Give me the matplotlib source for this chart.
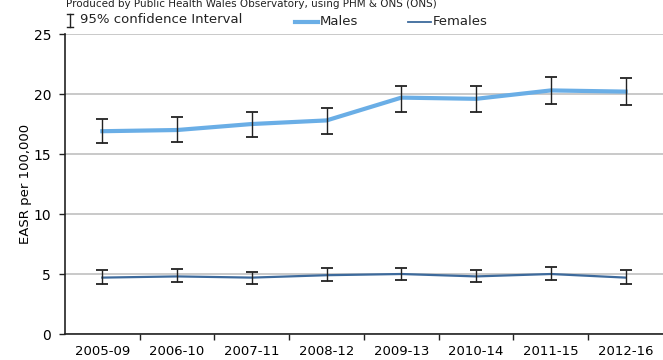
import numpy as np
import matplotlib.pyplot as plt
import matplotlib.ticker as ticker

periods = ['2005-09', '2006-10', '2007-11', '2008-12', '2009-13', '2010-14', '2011-15', '2012-16']

males = [16.9, 17.0, 17.5, 17.8, 19.7, 19.6, 20.3, 20.2]
males_low = [15.9, 16.0, 16.4, 16.7, 18.5, 18.5, 19.2, 19.1]
males_high = [17.9, 18.1, 18.5, 18.8, 20.7, 20.7, 21.4, 21.3]

females = [4.7, 4.8, 4.7, 4.9, 5.0, 4.8, 5.0, 4.7]
females_low = [4.2, 4.3, 4.2, 4.4, 4.5, 4.3, 4.5, 4.2]
females_high = [5.3, 5.4, 5.2, 5.5, 5.5, 5.3, 5.6, 5.3]

male_col = '#6aaee6'
female_col = '#3d6a9c'


def err(vals, low, high):
    v = np.array(vals)
    return [v - np.array(low), np.array(high) - v]


def main():
    fig = plt.figure(figsize=(6.63, 3.6), dpi=100)
    ax = fig.add_axes([0.098, 0.0722, 0.902, 0.8333])
    x = np.arange(len(periods))

    ax.plot(x, males, color=male_col, lw=3, zorder=3)
    ax.plot(x, females, color=female_col, lw=1.6, zorder=3)
    ax.errorbar(x, males, yerr=err(males, males_low, males_high), fmt='none',
                ecolor='#222222', elinewidth=1, capsize=4, capthick=1.3, zorder=4)
    ax.errorbar(x, females, yerr=err(females, females_low, females_high), fmt='none',
                ecolor='#222222', elinewidth=1, capsize=4, capthick=1.3, zorder=4)

    ax.set_xlim(-0.5, len(periods) - 0.5)
    ax.set_ylim(0, 25)
    ax.yaxis.set_major_locator(ticker.MultipleLocator(5))
    ax.grid(axis='y', color='#c0c0c0', lw=1.2)
    ax.set_axisbelow(True)

    ax.set_xticks(x)
    ax.set_xticklabels(periods, fontsize=9.5)
    ax.set_xticks(np.arange(0.5, len(periods) - 1, 1), minor=True)
    ax.tick_params(axis='x', which='major', length=0, pad=8)
    ax.tick_params(axis='x', which='minor', length=4, width=1, color='#222222')
    ax.tick_params(axis='y', labelsize=10, length=4, width=1, color='#222222', pad=6)

    for s in ['top', 'right']:
        ax.spines[s].set_visible(False)
    for s in ['left', 'bottom']:
        ax.spines[s].set_color('#222222')
        ax.spines[s].set_linewidth(1.2)

    ax.set_ylabel('EASR per 100,000', fontsize=9.5)
    ax.yaxis.set_label_coords(-0.055, 0.5)

    # header text at the very top
    fig.text(0.10, 0.988, 'Produced by Public Health Wales Observatory, using PHM & ONS (ONS)',
             fontsize=7.5, va='center', color='#222222')

    # confidence interval key: small I-beam drawn as lines
    cx, y0, y1, cw = 0.1055, 0.925, 0.962, 0.0045
    fig.add_artist(plt.Line2D([cx, cx], [y0, y1], color='#222222', lw=1))
    fig.add_artist(plt.Line2D([cx - cw, cx + cw], [y0, y0], color='#222222', lw=1))
    fig.add_artist(plt.Line2D([cx - cw, cx + cw], [y1, y1], color='#222222', lw=1))
    fig.text(0.12, 0.945, '95% confidence Interval', fontsize=9.5, va='center', color='#222222')

    # legend drawn by hand to match the layout
    fig.add_artist(plt.Line2D([0.445, 0.48], [0.94, 0.94], color=male_col, lw=3))
    fig.text(0.482, 0.94, 'Males', fontsize=9.5, va='center', color='#222222')
    fig.add_artist(plt.Line2D([0.615, 0.65], [0.94, 0.94], color=female_col, lw=1.3))
    fig.text(0.652, 0.94, 'Females', fontsize=9.5, va='center', color='#222222')

    fig.savefig('out.png', dpi=100)


if __name__ == '__main__':
    main()
